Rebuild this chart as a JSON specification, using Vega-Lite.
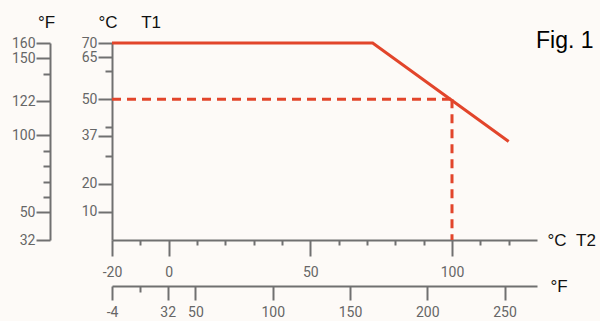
{
  "$schema": "https://vega.github.io/schema/vega-lite/v6.json",
  "width": 425,
  "height": 197,
  "autosize": {"type": "none"},
  "padding": {"left": 112, "top": 43, "right": 63, "bottom": 81},
  "background": "#fdfaf7",
  "config": {
    "view": {"stroke": null},
    "axis": {
      "grid": false,
      "domainColor": "#707070",
      "domainWidth": 2,
      "tickColor": "#707070",
      "tickWidth": 2,
      "labelColor": "#666666",
      "labelFont": "Roboto",
      "labelFontSize": 14,
      "labelFlush": false,
      "labelOverlap": false,
      "titleFont": "Liberation Sans",
      "titleFontWeight": "normal",
      "titleFontSize": 17,
      "titleColor": "#111111"
    }
  },
  "title": {
    "text": "Fig. 1",
    "anchor": "start",
    "frame": "group",
    "orient": "top",
    "font": "Liberation Sans",
    "fontSize": 23,
    "fontWeight": "normal",
    "color": "#000000",
    "dx": 424,
    "dy": 44
  },
  "layer": [
    {
      "data": {
        "values": [
          {"series": "limit", "t2": -20, "t1": 70},
          {"series": "limit", "t2": 72, "t1": 70},
          {"series": "limit", "t2": 120, "t1": 35},
          {"series": "ref_h", "t2": -20, "t1": 50},
          {"series": "ref_h", "t2": 100, "t1": 50},
          {"series": "ref_v", "t2": 100, "t1": 50},
          {"series": "ref_v", "t2": 100, "t1": 0}
        ]
      },
      "encoding": {
        "x": {
          "field": "t2",
          "type": "quantitative",
          "scale": {"domain": [-20, 130], "nice": false, "zero": false},
          "axis": {
            "orient": "bottom",
            "values": [-20, -10, 0, 10, 20, 30, 40, 50, 60, 70, 80, 90, 100, 110, 120],
            "labelExpr": "(datum.value === -20 || datum.value === 0 || datum.value === 50 || datum.value === 100) ? datum.value + '' : ''",
            "tickSize": {"condition": {"test": "datum.value === -20 || datum.value === 0 || datum.value === 50 || datum.value === 100", "value": 16}, "value": 5},
            "labelPadding": 9,
            "title": "°C\u00a0\u00a0T2",
            "titleAngle": 0,
            "titleAlign": "left",
            "titleBaseline": "middle",
            "titleX": 435,
            "titleY": 0
          }
        },
        "y": {
          "field": "t1",
          "type": "quantitative",
          "scale": {"domain": [0, 70], "nice": false, "zero": false},
          "axis": {
            "orient": "left",
            "values": [70, 65, 60, 50, 40, 37, 30, 20, 10],
            "labelExpr": "(datum.value === 60 || datum.value === 40 || datum.value === 30) ? '' : datum.value + ''",
            "tickSize": {"condition": {"test": "datum.value === 60 || datum.value === 40 || datum.value === 30", "value": 7}, "value": 14},
            "labelPadding": 1,
            "title": "°C\u00a0\u00a0\u00a0\u00a0\u00a0T1",
            "titleAngle": 0,
            "titleAlign": "left",
            "titleBaseline": "middle",
            "titleX": -14,
            "titleY": -21
          }
        }
      },
      "layer": [
        {
          "transform": [{"filter": "datum.series === 'limit'"}],
          "mark": {"type": "line", "color": "#e2452b", "strokeWidth": 3}
        },
        {
          "transform": [{"filter": "datum.series !== 'limit'"}],
          "mark": {"type": "line", "color": "#e2452b", "strokeWidth": 3, "strokeDash": [9, 6]},
          "encoding": {"detail": {"field": "series"}}
        }
      ]
    },
    {
      "data": {"values": [{"fx": -4, "fy": 32}, {"fx": 271, "fy": 160}]},
      "mark": {"type": "point", "opacity": 0},
      "encoding": {
        "x": {
          "field": "fx",
          "type": "quantitative",
          "scale": {"domain": [-4, 271], "nice": false, "zero": false},
          "axis": {
            "orient": "bottom",
            "offset": 46,
            "values": [-4, 14, 32, 50, 100, 150, 200, 250],
            "labelExpr": "datum.value === 14 ? '' : datum.value + ''",
            "tickSize": {"condition": {"test": "datum.value === 14", "value": 6}, "value": 14},
            "labelPadding": 5,
            "title": "°F",
            "titleAngle": 0,
            "titleAlign": "left",
            "titleBaseline": "middle",
            "titleX": 438,
            "titleY": 0
          }
        },
        "y": {
          "field": "fy",
          "type": "quantitative",
          "scale": {"domain": [32, 160], "nice": false, "zero": false},
          "axis": {
            "orient": "left",
            "offset": 62,
            "values": [160, 150, 140, 122, 100, 90, 80, 70, 60, 50, 32],
            "labelExpr": "(datum.value === 140 || datum.value === 90 || datum.value === 80 || datum.value === 70 || datum.value === 60) ? '' : datum.value + ''",
            "tickSize": {"condition": {"test": "datum.value === 140 || datum.value === 90 || datum.value === 80 || datum.value === 70 || datum.value === 60", "value": 7}, "value": 14},
            "labelPadding": 1,
            "title": "°F",
            "titleAngle": 0,
            "titleAlign": "center",
            "titleBaseline": "middle",
            "titleX": -4,
            "titleY": -21
          }
        }
      }
    }
  ],
  "resolve": {"scale": {"x": "independent", "y": "independent"}}
}
